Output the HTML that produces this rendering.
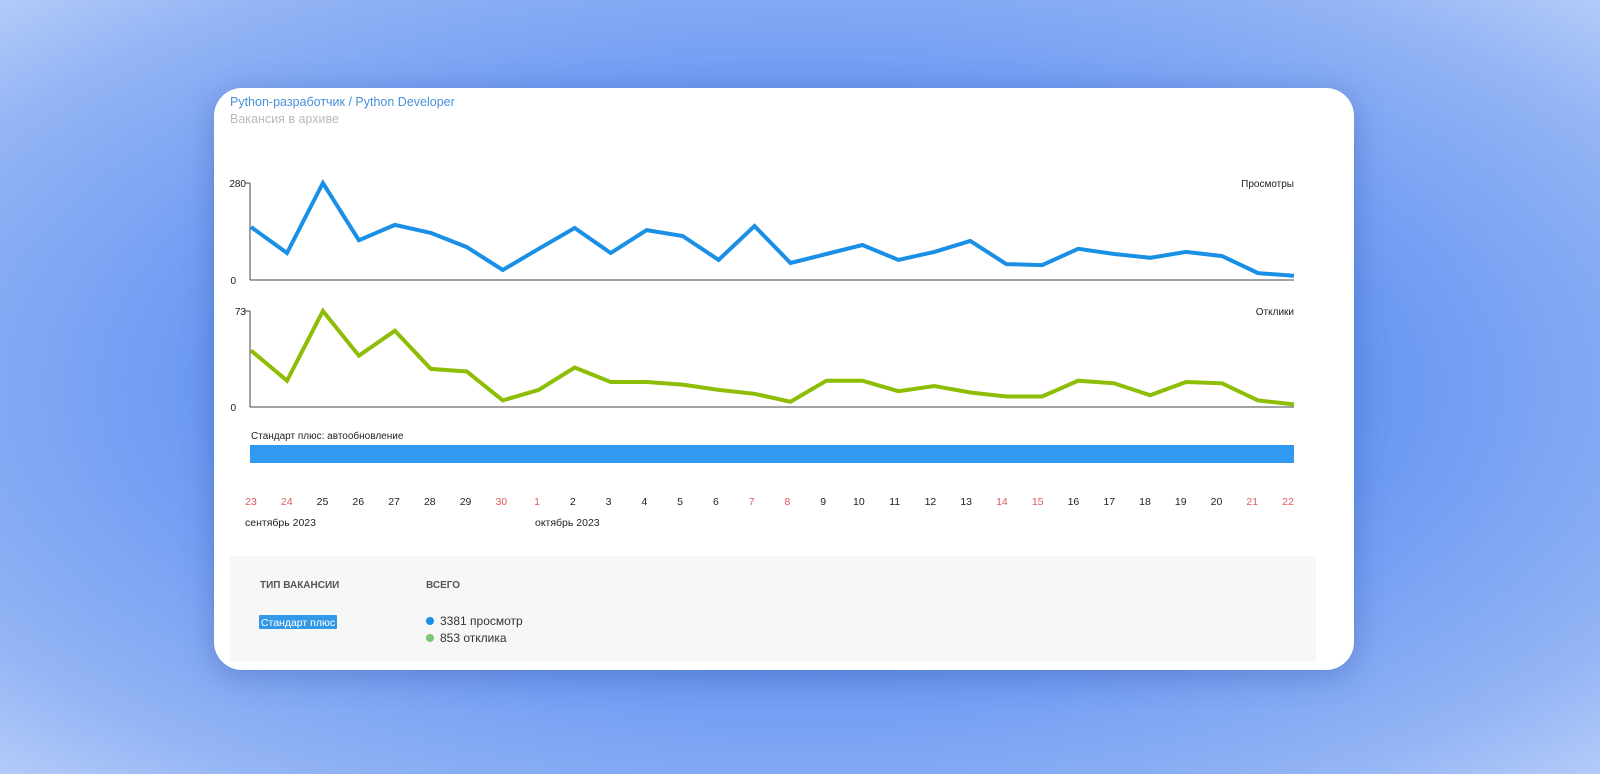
<!DOCTYPE html>
<html><head><meta charset="utf-8"><style>
html,body{margin:0;padding:0;width:1600px;height:774px;overflow:hidden;}
body{background:radial-gradient(ellipse at 50% 50%,#5a8cf0 0%,#6897f2 50%,#94b5f5 85%,#b4cbf8 100%);font-family:"Liberation Sans","Noto Sans CJK SC",sans-serif;}
#card{position:absolute;left:214px;top:88px;width:1140px;height:582px;background:#fff;border-radius:28px;box-shadow:0 6px 30px rgba(40,70,150,.35);overflow:hidden;}
svg{position:absolute;left:0;top:0;}
</style></head><body>
<div id="card"></div>
<svg id="chart" width="1600" height="774" font-family="Liberation Sans, sans-serif"></svg>
<script>
const days=["23","24","25","26","27","28","29","30","1","2","3","4","5","6","7","8","9","10","11","12","13","14","15","16","17","18","19","20","21","22"];
const weekend=[1,1,0,0,0,0,0,1,1,0,0,0,0,0,1,1,0,0,0,0,0,1,1,0,0,0,0,0,1,1];
const views=[153,78,280,115,159,136,95,29,90,150,78,144,127,58,156,49,75,101,58,81,113,46,43,90,75,64,81,69,20,12];
const responses=[43,20,73,39,58,29,27,5,13,30,19,19,17,13,10,4,20,20,12,16,11,8,8,20,18,9,19,18,5,2];
const viewsMax=280, respMax=73;
const totals=["3381 просмотр","853 отклика"];

const svg=document.getElementById('chart');
const NS='http://www.w3.org/2000/svg';
function el(tag,attrs,parent){const e=document.createElementNS(NS,tag);for(const k in attrs)e.setAttribute(k,attrs[k]);(parent||svg).appendChild(e);return e;}
function txt(s,attrs){const t=el('text',attrs);t.textContent=s;return t;}
const x0=251,x1=1294;
const xs=i=>x0+i*(x1-x0)/(days.length-1);

let t=txt('Python-разработчик / Python Developer',{x:230,y:106,'font-size':12.5,fill:'#4a90d9'});


t=txt('Вакансия в архиве',{x:230,y:123,'font-size':12.5,fill:'#bbbbbb'});



function panel(vals,max,yTop,yBot,color,label,name){
  const y=v=>yBot-v/max*(yBot-yTop);
  let a=el('line',{x1:250,y1:yTop,x2:250,y2:yBot,stroke:'#444','stroke-width':1});
  
  
  a=el('line',{x1:245,y1:yTop,x2:250,y2:yTop,stroke:'#444','stroke-width':1});
  a=el('line',{x1:250,y1:yBot,x2:1294,y2:yBot,stroke:'#444','stroke-width':1});
  
  
  a=txt(String(max),{x:246,y:yTop+4,'font-size':10,fill:'#222','text-anchor':'end'});
  
  
  a=txt('0',{x:236,y:yBot+4,'font-size':10,fill:'#222','text-anchor':'end'});
  
  
  a=txt(label,{x:1294,y:yTop+4,'font-size':10,fill:'#222','text-anchor':'end'});
  
  
  const pts=vals.map((v,i)=>xs(i).toFixed(1)+','+y(v).toFixed(1)).join(' ');
  a=el('polyline',{points:pts,fill:'none',stroke:color,'stroke-width':4,'stroke-linejoin':'miter','stroke-linecap':'butt'});
  
  
}
panel(views,viewsMax,183,280,'#1a8fe6','Просмотры','views');
panel(responses,respMax,311,407,'#8dbd05','Отклики','responses');

t=txt('Стандарт плюс: автообновление',{x:251,y:439,'font-size':10,fill:'#222'});


t=el('rect',{x:250,y:445,width:1044,height:18,fill:'#2f9af0'});



days.forEach((d,i)=>{
  const lx=251+i*(1288-251)/29;
  const e=txt(d,{x:lx,y:505,'font-size':10.5,fill:weekend[i]?'#e05a5a':'#222','text-anchor':'middle'});
  
  
});
t=txt('сентябрь 2023',{x:245,y:526,'font-size':10.5,fill:'#222'});


t=txt('октябрь 2023',{x:535,y:526,'font-size':10.5,fill:'#222'});



t=el('rect',{x:230,y:556,width:1086,height:106,fill:'#f7f7f7'});


t=txt('ТИП ВАКАНСИИ',{x:260,y:588,'font-size':10,'font-weight':'bold',fill:'#555'});


t=txt('ВСЕГО',{x:426,y:588,'font-size':10,'font-weight':'bold',fill:'#555'});


t=el('rect',{x:259,y:615,width:78,height:14,rx:1,fill:'#3399e6'});


t=txt('Стандарт плюс',{x:298,y:626,'font-size':10.5,fill:'#fff','text-anchor':'middle'});


const dotColors=['#1a8fe6','#7cc576'];
totals.forEach((s,i)=>{
  const c=el('circle',{cx:430,cy:621+i*17,r:4,fill:dotColors[i]});
  
  
  const e=txt(s,{x:440,y:625+i*17,'font-size':12,fill:'#333'});
  
  
});
</script>
</body></html>
